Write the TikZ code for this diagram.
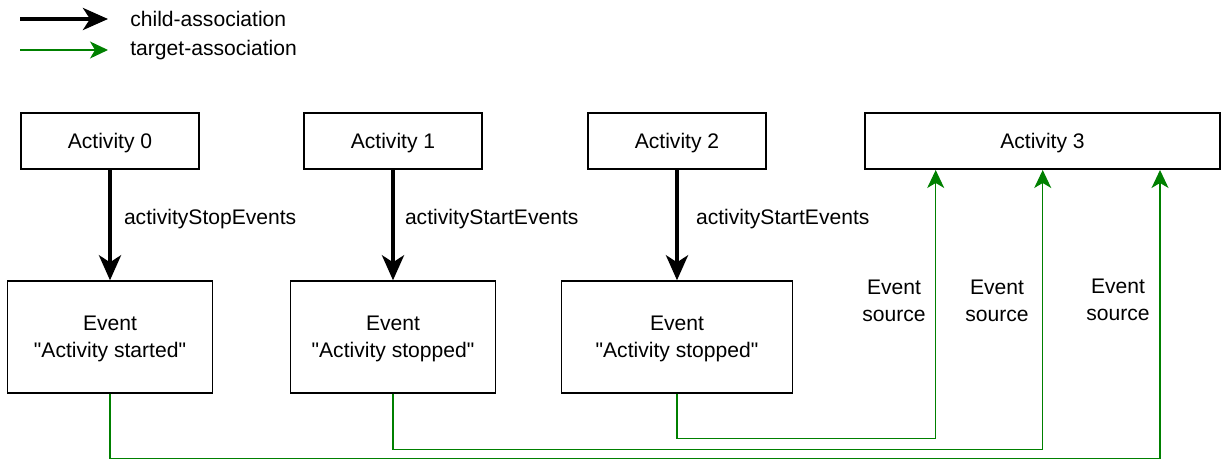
\documentclass[tikz,border=0pt]{standalone}
\usepackage{fontspec}
\setmainfont{Liberation Sans}
\usepackage{xcolor}
\usepackage{tikz}
\usetikzlibrary{arrows.meta}
\definecolor{srcgreen}{RGB}{0,128,0}

\begin{document}
\begin{tikzpicture}[x=0.02cm,y=-0.02cm,
  every node/.style={font=\fontsize{12}{15.4}\selectfont},
  activity/.style={draw,line width=0.8pt,minimum width=3.56cm,minimum height=1.12cm,inner sep=0,text depth=0pt},
  event/.style={draw,line width=0.8pt,minimum width=4.1cm,minimum height=2.24cm,align=center,inner sep=0,text depth=0pt},
  child/.style={line width=2.3pt,-{Stealth[length=0.5cm,width=0.44cm,inset=0.14cm]}},
  target/.style={srcgreen,line width=0.7pt,-{Stealth[length=0.36cm,width=0.34cm,inset=0.1cm]}},
  lbl/.style={align=center,inner sep=0}]
\useasboundingbox (0,0) rectangle (1226,459);

% legend
\coordinate (c1) at (20,19);
\coordinate (c2) at (108,19);
\coordinate (t1) at (20,50);
\coordinate (t2) at (108,50);
\draw[child] (c1) -- (c2);
\draw[target] (t1) -- (t2);
\node[anchor=west,inner sep=0] (childtxt) at (130,19) {child-association};
\node[anchor=west,inner sep=0] (targettxt) at (130,50) {target-association};

\node[activity] (a0) at (110,141) {Activity 0};
\node[activity] (a1) at (393,141) {Activity 1};
\node[activity] (a2) at (677,141) {Activity 2};
\node[activity,minimum width=7.1cm] (a3) at (1042.5,141) {Activity 3};

\node[event] (e0) at (110,337) {Event\\\textquotedbl Activity started\textquotedbl};
\node[event] (e1) at (393,337) {Event\\\textquotedbl Activity stopped\textquotedbl};
\node[event,minimum width=4.62cm] (e2) at (677,337) {Event\\\textquotedbl Activity stopped\textquotedbl};

\draw[child] (a0) -- node[right=0.24cm,pos=0.45,inner sep=0] (l0) {activityStopEvents} (e0);
\draw[child] (a1) -- node[right=0.2cm,pos=0.45,inner sep=0] (l1) {activityStartEvents} (e1);
\draw[child] (a2) -- node[right=0.34cm,pos=0.45,inner sep=0] (l2) {activityStartEvents} (e2);

\coordinate (in0) at (935.7,170);
\coordinate (in1) at (1042.7,170);
\coordinate (in2) at (1160,170);
\draw[target] (e2.south) -- ++(0,44.7) -| (in0);
\draw[target] (e1.south) -- ++(0,56) -| (in1);
\draw[target] (e0.south) -- ++(0,64.5) -| (in2);

\node[lbl] (s0) at (894,301) {Event\\source};
\node[lbl] (s1) at (997,301) {Event\\source};
\node[lbl] (s2) at (1118,300) {Event\\source};
\end{tikzpicture}
\end{document}
